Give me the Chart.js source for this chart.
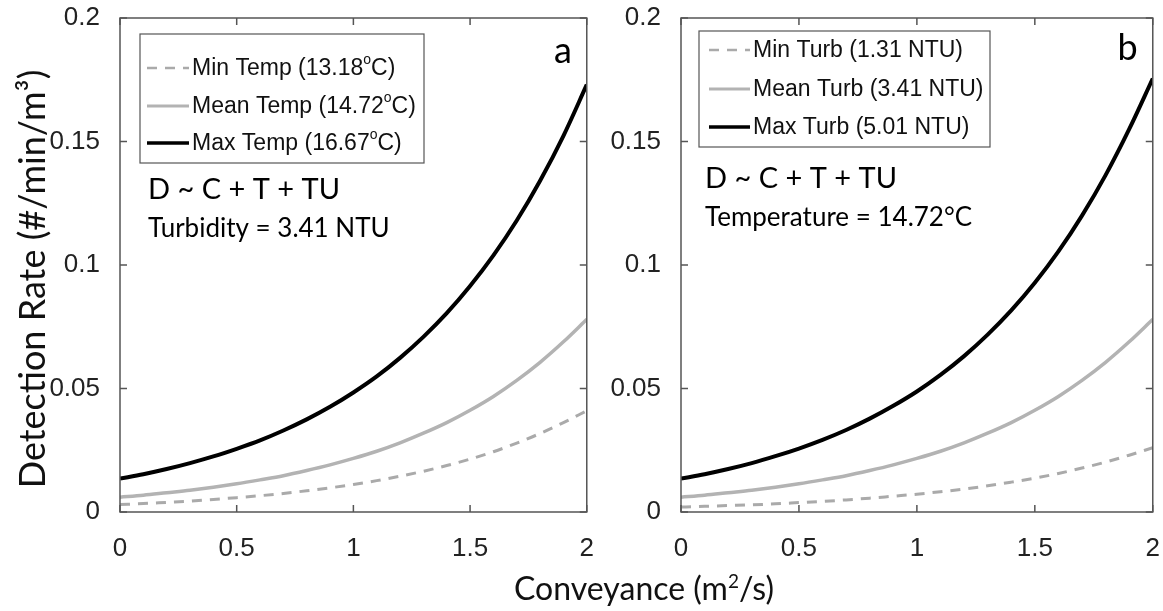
<!DOCTYPE html>
<html lang="en">
  <head>
    <meta charset="UTF-8" />
    <title>Detection rate vs conveyance</title>
    <script src="https://cdn.jsdelivr.net/npm/chart.js"></script>
    <style>
      body { margin: 0; background: #fff; }
      .janela { position: relative; width: 1163px; height: 611px; overflow: hidden; }
      /* canvases sobem 7px para compensar o padding dos ticks do chart.js */
      #chartA { position: absolute; left: 0; top: -7px; }
      #chartB { position: absolute; left: 600px; top: -7px; }
      .xtitulo {
        position: absolute; left: 0; width: 1288px; top: 569px;
        text-align: center; font-family: Lato, "Open Sans", sans-serif;
        font-size: 32px; line-height: 38px; color: #111;
      }
      .xtitulo sup { font-size: 19px; line-height: 0; }
    </style>
  </head>
  <body>
    <div class="janela">
      <canvas id="chartA" width="610" height="618"></canvas>
      <canvas id="chartB" width="576" height="618"></canvas>
      <div class="xtitulo">Conveyance (m<sup>2</sup>/s)</div>
    </div>

    <script>
      // eixo x (conveyance, m2/s)
      var conveyance = [0, 0.1, 0.2, 0.3, 0.4, 0.5, 0.6, 0.7, 0.8, 0.9, 1.0,
        1.1, 1.2, 1.3, 1.4, 1.5, 1.6, 1.7, 1.8, 1.9, 2.0];
      var xTicks = [0, 0.5, 1, 1.5, 2];
      var yTicks = [0, 0.05, 0.1, 0.15, 0.2];

      // painel a - temperatura
      var minTempA = [0.0030, 0.0034, 0.0039, 0.0044, 0.0051, 0.0058, 0.0066, 0.0075, 0.0086, 0.0098, 0.0111,
        0.0127, 0.0145, 0.0165, 0.0188, 0.0214, 0.0244, 0.0279, 0.0318, 0.0362, 0.0410];
      var meanTempA = [0.0060, 0.0068, 0.0078, 0.0088, 0.0100, 0.0114, 0.0130, 0.0147, 0.0168, 0.0191, 0.0217,
        0.0246, 0.0280, 0.0319, 0.0362, 0.0412, 0.0468, 0.0533, 0.0606, 0.0689, 0.0780];
      var maxTempA = [0.0135, 0.0153, 0.0174, 0.0198, 0.0225, 0.0256, 0.0290, 0.0330, 0.0375, 0.0426, 0.0484,
        0.0549, 0.0624, 0.0709, 0.0805, 0.0915, 0.1039, 0.1180, 0.1341, 0.1523, 0.1730];

      // painel b - turbidez
      var minTurbB = [0.0020, 0.0023, 0.0026, 0.0029, 0.0033, 0.0038, 0.0043, 0.0049, 0.0056, 0.0064, 0.0072,
        0.0082, 0.0093, 0.0106, 0.0121, 0.0137, 0.0156, 0.0178, 0.0202, 0.0230, 0.0260];
      var meanTurbB = [0.0060, 0.0068, 0.0078, 0.0088, 0.0100, 0.0114, 0.0130, 0.0147, 0.0168, 0.0191, 0.0217,
        0.0246, 0.0280, 0.0319, 0.0362, 0.0412, 0.0468, 0.0533, 0.0606, 0.0689, 0.0780];
      var maxTurbB = [0.0135, 0.0153, 0.0174, 0.0198, 0.0226, 0.0257, 0.0292, 0.0332, 0.0378, 0.0430, 0.0488,
        0.0555, 0.0631, 0.0718, 0.0816, 0.0928, 0.1055, 0.1200, 0.1364, 0.1550, 0.1755];

      var labelsA = ["Min Temp (13.18^oC)", "Mean Temp (14.72^oC)", "Max Temp (16.67^oC)"];
      var labelsB = ["Min Turb (1.31 NTU)", "Mean Turb (3.41 NTU)", "Max Turb (5.01 NTU)"];

      var fonteTicks = "Liberation Sans, Arial, sans-serif";
      var fonteTexto = "Lato, 'Open Sans', sans-serif";

      function pontos(valores) {
        var lista = [];
        for (var i = 0; i < conveyance.length; i++) {
          lista.push({ x: conveyance[i], y: valores[i] });
        }
        return lista;
      }

      function montarDatasets(labels, minV, meanV, maxV) {
        return [
          { label: labels[0], data: pontos(minV), borderColor: "#aaaaaa", borderWidth: 3, borderDash: [10, 8] },
          { label: labels[1], data: pontos(meanV), borderColor: "#b3b3b3", borderWidth: 3.5 },
          { label: labels[2], data: pontos(maxV), borderColor: "#000000", borderWidth: 4 },
        ];
      }

      // caixa do eixo com ticks para dentro (estilo matlab)
      var caixaPlugin = {
        id: "caixa",
        afterDatasetsDraw: function (chart) {
          var ctx = chart.ctx, a = chart.chartArea;
          var sx = chart.scales.x, sy = chart.scales.y;
          ctx.save();
          ctx.strokeStyle = "#555";
          ctx.lineWidth = 1.5;
          ctx.strokeRect(a.left, a.top, a.right - a.left, a.bottom - a.top);
          ctx.beginPath();
          xTicks.forEach(function (v) {
            var px = sx.getPixelForValue(v);
            ctx.moveTo(px, a.bottom); ctx.lineTo(px, a.bottom - 7);
            ctx.moveTo(px, a.top); ctx.lineTo(px, a.top + 7);
          });
          yTicks.forEach(function (v) {
            var py = sy.getPixelForValue(v);
            ctx.moveTo(a.left, py); ctx.lineTo(a.left + 7, py);
            ctx.moveTo(a.right, py); ctx.lineTo(a.right - 7, py);
          });
          ctx.stroke();
          ctx.restore();
        },
      };

      // legenda com borda + anotacoes do painel
      var legendaPlugin = {
        id: "legendaBox",
        afterDraw: function (chart) {
          var o = chart.options.plugins.legendaBox;
          var ctx = chart.ctx, a = chart.chartArea;
          var bx = a.left + o.box[0], by = a.top + o.box[1];
          ctx.save();
          ctx.fillStyle = "#fff";
          ctx.fillRect(bx, by, o.box[2], o.box[3]);
          ctx.strokeStyle = "#555";
          ctx.lineWidth = 1.2;
          ctx.strokeRect(bx, by, o.box[2], o.box[3]);
          chart.data.datasets.forEach(function (ds, i) {
            var yy = by + o.rows[i];
            ctx.beginPath();
            ctx.strokeStyle = ds.borderColor;
            ctx.lineWidth = ds.borderWidth - 0.5;
            ctx.setLineDash(ds.borderDash || []);
            ctx.moveTo(bx + o.line[0], yy);
            ctx.lineTo(bx + o.line[1], yy);
            ctx.stroke();
            ctx.setLineDash([]);
            // texto com "o" sobrescrito
            var partes = ds.label.split("^o");
            var tx = bx + o.line[1] + 3;
            ctx.fillStyle = "#111";
            ctx.textBaseline = "middle";
            ctx.textAlign = "left";
            ctx.font = "23px " + fonteTicks;
            ctx.fillText(partes[0], tx, yy + 1);
            if (partes.length > 1) {
              tx += ctx.measureText(partes[0]).width;
              ctx.font = "14px " + fonteTicks;
              ctx.fillText("o", tx, yy - 8);
              tx += ctx.measureText("o").width;
              ctx.font = "23px " + fonteTicks;
              ctx.fillText(partes[1], tx, yy + 1);
            }
          });
          ctx.fillStyle = "#000";
          ctx.textBaseline = "alphabetic";
          ctx.font = "29px " + fonteTexto;
          ctx.fillText(o.formula, a.left + o.texto[0], a.top + o.texto[1]);
          ctx.font = "26px " + fonteTexto;
          ctx.fillText(o.condicao, a.left + o.texto[0], a.top + o.texto[1] + 38);
          ctx.font = "36px " + fonteTexto;
          ctx.textAlign = "right";
          ctx.fillText(o.letra, a.right - 15, a.top + o.letraY);
          // titulo do eixo y (so no painel a)
          if (o.tituloY) {
            ctx.translate(33, a.top + 261);
            ctx.rotate(-Math.PI / 2);
            ctx.textAlign = "center";
            ctx.textBaseline = "middle";
            ctx.fillStyle = "#111";
            ctx.font = "36px " + fonteTexto;
            ctx.fillText("Detection Rate (#/min/m\u00b3)", 0, 0);
          }
          ctx.restore();
        },
      };

      function plotarGrafico(id, datasets, largEixoY, extra) {
        var config = {
          type: "line",
          data: { datasets: datasets },
          options: {
            responsive: false,
            animation: false,
            layout: { padding: 0 },
            elements: { point: { radius: 0 }, line: { cubicInterpolationMode: "monotone" } },
            plugins: {
              legend: { display: false },
              tooltip: { enabled: false },
              legendaBox: extra,
            },
            scales: {
              x: {
                type: "linear", min: 0, max: 2,
                grid: { display: false },
                border: { display: false },
                afterBuildTicks: function (s) { s.ticks = xTicks.map(function (v) { return { value: v }; }); },
                afterFit: function (s) { s.height = 99; },
                ticks: { padding: 16, color: "#222", font: { family: fonteTicks, size: 26, lineHeight: 1 },
                  maxRotation: 0, callback: function (v) { return String(v); } },
              },
              y: {
                min: 0, max: 0.2,
                grid: { display: false },
                border: { display: false },
                afterBuildTicks: function (s) { s.ticks = yTicks.map(function (v) { return { value: v }; }); },
                afterFit: function (s) { s.width = largEixoY; },
                ticks: { padding: 12, color: "#222", font: { family: fonteTicks, size: 26, lineHeight: 1 },
                  callback: function (v) { return String(v); } },
              },
            },
          },
          plugins: [caixaPlugin, legendaPlugin],
        };
        return new Chart(document.getElementById(id), config);
      }

      plotarGrafico("chartA", montarDatasets(labelsA, minTempA, meanTempA, maxTempA), 120, {
        tituloY: true,
        box: [20, 16, 284, 129], rows: [34, 72, 109], line: [7, 49],
        texto: [28, 181], formula: "D ~ C + T + TU", condicao: "Turbidity = 3.41 NTU", letra: "a", letraY: 45,
      });
      plotarGrafico("chartB", montarDatasets(labelsB, minTurbB, meanTurbB, maxTurbB), 81, {
        tituloY: false,
        box: [18, 13, 291, 116], rows: [19, 58, 96], line: [10, 51],
        texto: [24, 170], formula: "D ~ C + T + TU", condicao: "Temperature = 14.72\u00b0C", letra: "b", letraY: 42,
      });
    </script>
  </body>
</html>
